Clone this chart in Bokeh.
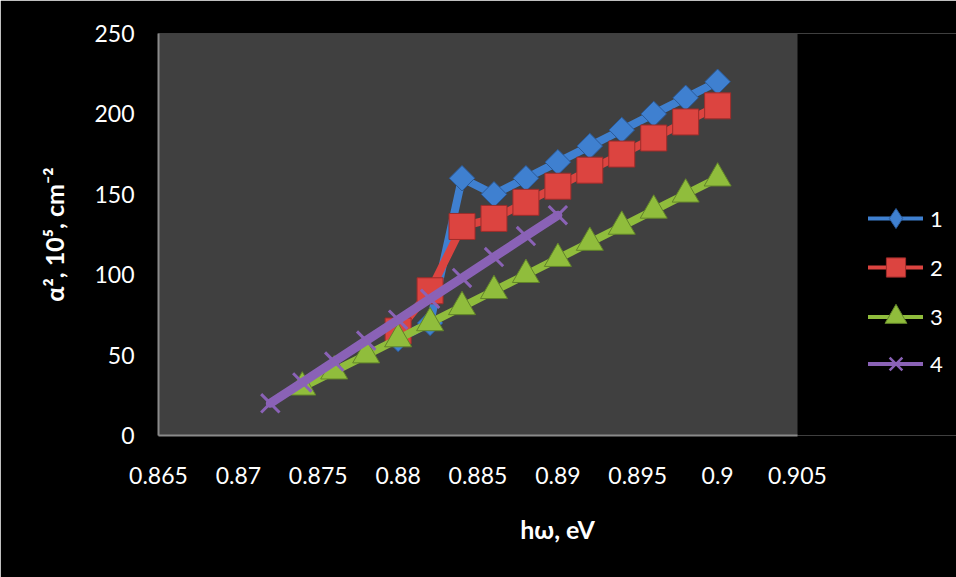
import math
from bokeh.plotting import figure
from bokeh.models import Range1d, FixedTicker, Legend, LegendItem
from bokeh.embed import file_html
from bokeh.resources import INLINE

# ---- data ----
x1 = [0.880, 0.882, 0.884, 0.886, 0.888, 0.890, 0.892, 0.894, 0.896, 0.898, 0.900]
y1 = [60, 70, 160, 150, 160, 170, 180, 190, 200, 210, 220]
x2 = [0.880, 0.882, 0.884, 0.886, 0.888, 0.890, 0.892, 0.894, 0.896, 0.898, 0.900]
y2 = [65, 90, 130, 135, 145, 155, 165, 175, 185, 195, 205]
x3 = [0.874, 0.876, 0.878, 0.880, 0.882, 0.884, 0.886, 0.888, 0.890, 0.892, 0.894, 0.896, 0.898, 0.900]
y3 = [30, 40, 50, 60, 70, 80, 90, 100, 110, 120, 130, 140, 150, 160]
x4 = [0.872, 0.874, 0.876, 0.878, 0.880, 0.882, 0.884, 0.886, 0.888, 0.890]
y4 = [20, 33, 46, 59, 72, 85, 98, 111, 124, 137]
series_names = ["1", "2", "3", "4"]
x_ticks = [0.865, 0.87, 0.875, 0.88, 0.885, 0.89, 0.895, 0.9, 0.905]
y_ticks = [0, 50, 100, 150, 200, 250]
x_lo, x_hi = 0.865, 0.905
y_lo, y_hi = 0, 250

FONT = "Lato"
BLUE, BLUE_D = "#3f80d0", "#2a5a9a"
RED, RED_D = "#dc4440", "#9e2c2a"
GREEN, GREEN_D = "#90bd3c", "#62842a"
PURPLE = "#8a62b6"

W, H = 956, 577
PL, PR, PT, PB = 158, 797, 33, 435   # plot-area pixel box
# frame spans to the right edge so the legend can live inside it
x_end = x_lo + (x_hi - x_lo) * (W - PL) / (PR - PL)

p = figure(width=W, height=H, output_backend="svg", toolbar_location=None,
           x_range=Range1d(x_lo, x_end), y_range=Range1d(y_lo, y_hi),
           min_border_left=PL, min_border_right=0, min_border_top=PT, min_border_bottom=H - PB)
p.border_fill_color = "black"
p.background_fill_color = "black"
p.outline_line_color = None
p.grid.visible = False
# grey plot area (exactly the axis ranges)
p.quad(left=[x_lo], right=[x_hi], bottom=[y_lo], top=[y_hi],
       fill_color="#404040", line_color=None, level="underlay")

for ax in (p.xaxis[0], p.yaxis[0]):
    ax.axis_line_color = "#8a8a8a"
    ax.axis_line_width = 2
    ax.major_tick_line_color = None
    ax.minor_tick_line_color = None
    ax.major_tick_in = 0
    ax.major_tick_out = 0
    ax.major_label_text_color = "white"
    ax.major_label_text_font = FONT
    ax.major_label_text_font_size = "23px"
    ax.axis_label_text_color = "white"
    ax.axis_label_text_font = FONT
    ax.axis_label_text_font_style = "bold"
    ax.axis_label_text_font_size = "25px"
p.xaxis[0].bounds = (x_lo, x_hi)
p.xaxis[0].ticker = FixedTicker(ticks=x_ticks)
p.yaxis[0].ticker = FixedTicker(ticks=y_ticks)
p.xaxis[0].major_label_overrides = {t: ("%g" % t) for t in x_ticks}
p.xaxis[0].major_label_standoff = 31
p.yaxis[0].major_label_standoff = 24
p.xaxis[0].axis_label = "hω, eV"
p.xaxis[0].axis_label_standoff = 27
p.yaxis[0].axis_label = "α², 10⁵, cm⁻²"
p.yaxis[0].axis_label_standoff = 22

# series 1
p.line(x1, y1, line_color=BLUE, line_width=8, line_join="round", line_cap="round")
p.scatter(x1, y1, marker="square", angle=math.pi / 4, size=18, fill_color=BLUE, line_color=BLUE_D, line_width=1)
# series 2
p.line(x2, y2, line_color=RED, line_width=8, line_join="round", line_cap="round")
p.scatter(x2, y2, marker="square", size=26, fill_color=RED, line_color=RED_D, line_width=1)
# series 3
p.line(x3, y3, line_color=GREEN, line_width=8, line_join="round", line_cap="round")
p.scatter(x3, y3, marker="triangle", size=27, fill_color=GREEN, line_color=GREEN_D, line_width=1)
# series 4
p.line(x4, y4, line_color=PURPLE, line_width=9, line_join="round", line_cap="round")
p.scatter(x4, y4, marker="x", size=26, line_color=PURPLE, line_width=3)

# legend swatches (hidden renderers, thinner line like the reference legend)
xs = [x1, x2, x3, x4]
ys = [y1, y2, y3, y4]
leg_specs = [
    (BLUE, dict(marker="diamond", fill_color=BLUE, line_color=BLUE_D), 218, 50),
    (RED, dict(marker="square", fill_color=RED, line_color=RED_D), 267, 48),
    (GREEN, dict(marker="triangle", fill_color=GREEN, line_color=GREEN_D), 316, 55),
    (PURPLE, dict(marker="x", line_color=PURPLE, line_width=2.5), 363, 45),
]
for name, xx, yy, (col, mk, cy, gh) in zip(series_names, xs, ys, leg_specs):
    lr = p.line(xx, yy, line_color=col, line_width=4, line_cap="round", visible=False)
    sr = p.scatter(xx, yy, size=10, visible=False, **mk)
    leg = Legend(items=[LegendItem(label=name, renderers=[lr, sr])],
                 location=(868 - PL, PB - (cy + gh / 2)), glyph_width=55, glyph_height=gh,
                 padding=0, margin=0, spacing=0, label_standoff=7,
                 border_line_color=None, background_fill_alpha=0,
                 label_text_color="white", label_text_font=FONT,
                 label_text_font_size="22px")
    p.add_layout(leg, "center")

open("out.html", "w").write(file_html(p, INLINE))
